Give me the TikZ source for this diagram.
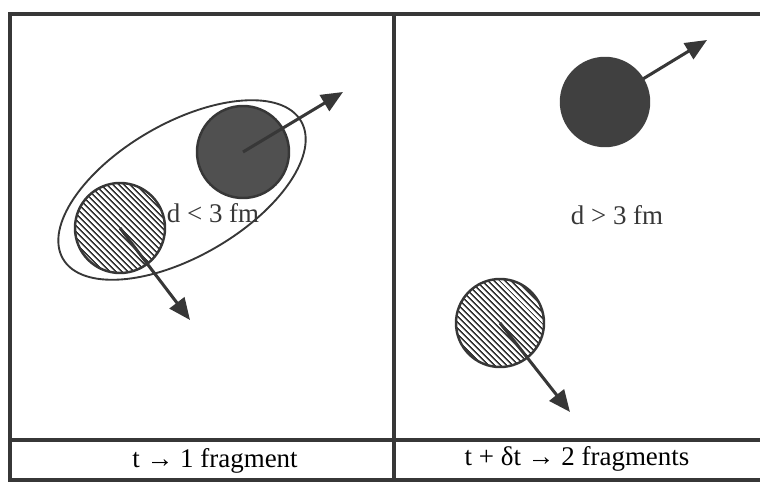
\documentclass[tikz,border=0pt]{standalone}
\usepackage{fontspec}
\setmainfont{Liberation Serif}
\usetikzlibrary{arrows.meta,positioning,shapes.geometric,patterns.meta}
\definecolor{inkgray}{RGB}{55,55,55}
\definecolor{ballgray}{RGB}{80,80,80}
\definecolor{balldark}{RGB}{64,64,64}

\tikzset{
  frameline/.style={draw=inkgray, line width=2.6pt},
  darkball/.style={circle, draw=inkgray, line width=2.1pt, fill=ballgray, minimum size=2.7cm, inner sep=0pt},
  hatchball/.style={circle, draw=inkgray, line width=2.1pt, fill=white,
    pattern={Lines[angle=-45, distance=4pt, line width=1.5pt]}, pattern color=inkgray,
    minimum size=2.7cm, inner sep=0pt},
  velocity/.style={draw=inkgray, line width=2.6pt, -{Triangle[length=0.65cm, width=0.55cm]}},
  distlabel/.style={font=\fontsize{23}{25}\selectfont, text=inkgray, inner sep=0pt},
  caplabel/.style={font=\fontsize{23}{25}\selectfont, text=black, inner sep=0pt}
}

\begin{document}
\begin{tikzpicture}[x=0.03cm, y=-0.03cm]
    \useasboundingbox (0,0) rectangle (760,482);

    % Frame: outer lines, divider, caption row
    \coordinate (tl) at (10,14);
    \coordinate (tr) at (760,14);
    \coordinate (bl) at (10,480);
    \coordinate (br) at (760,480);
    \coordinate (mt) at (394,14);
    \coordinate (mb) at (394,480);
    \coordinate (cl) at (10,440);
    \coordinate (cr) at (760,440);
    \draw[frameline] (tr) -- (tl) -- (bl) -- (br);
    \draw[frameline] (mt) -- (mb);
    \draw[frameline] (cl) -- (cr);

    % Left panel: bound pair inside the ellipse
    \node[ellipse, draw=inkgray, line width=1.6pt, minimum width=8.25cm,
          minimum height=4.0cm, inner sep=0pt, rotate=30] (halo) at (182,190) {};
    \node[darkball, minimum size=2.76cm] (ld) at (243,152) {};
    \node[hatchball] (lh) at (120,228) {};
    \coordinate (ldtip) at (343,92);
    \coordinate (lhtip) at (190,320);
    \draw[velocity] (ld.center) -- (ldtip);
    \draw[velocity] (lh.center) -- (lhtip);
    \node[distlabel] (dl) at (213,213) {d < 3 fm};

    % Right panel: two separated fragments
    \coordinate (rdc) at (605,102);
    \coordinate (rdtip) at (707,40);
    \draw[velocity] (rdc) -- (rdtip);
    \node[darkball, fill=balldark, draw=balldark, minimum size=2.64cm] (rd) at (rdc) {};
    \node[hatchball, minimum size=2.64cm] (rh) at (500,323) {};
    \coordinate (rhtip) at (570,412);
    \draw[velocity] (rh.center) -- (rhtip);
    \node[distlabel] (dr) at (617,215) {d > 3 fm};

    % Captions
    \node[caplabel] (cap1) at (215,461) {t \textbf{→} 1 fragment};
    \node[caplabel] (cap2) at (577,459) {t + δt \textbf{→} 2 fragments};
\end{tikzpicture}
\end{document}
